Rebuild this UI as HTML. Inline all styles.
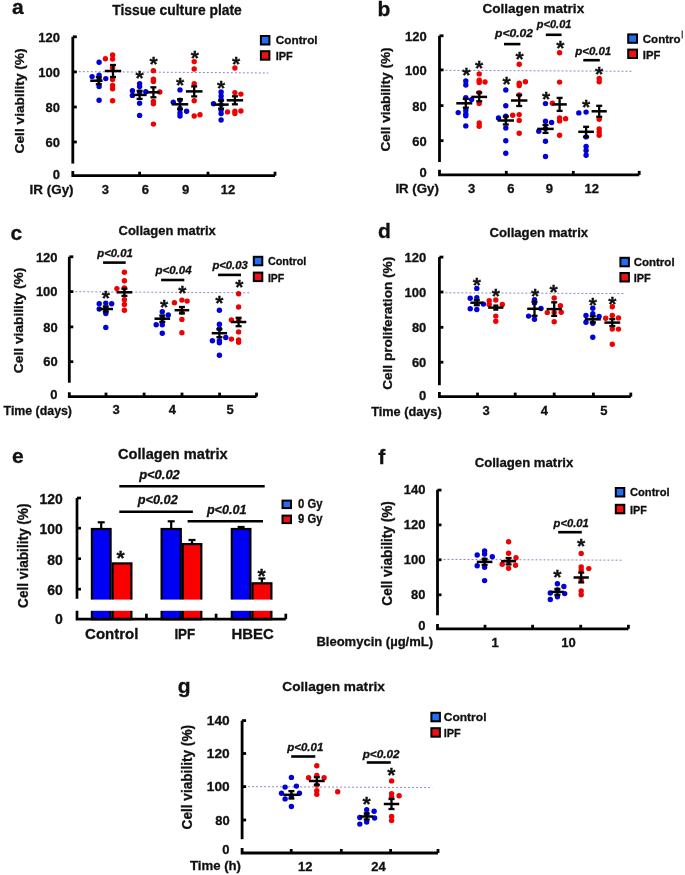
<!DOCTYPE html>
<html><head><meta charset="utf-8"><style>
html,body{margin:0;padding:0;background:#fff;}
svg text{stroke:#111;stroke-width:0.3px;}
svg{display:block;font-family:"Liberation Sans", sans-serif;will-change:transform;filter:blur(0.4px);}
</style></head><body>
<svg width="685" height="875" viewBox="0 0 685 875">
<rect width="685" height="875" fill="#fff"/>
<text x="12" y="14" font-size="21" text-anchor="start" font-weight="bold" font-style="normal" fill="#111">a</text>
<text x="177" y="15.2" font-size="14" text-anchor="middle" font-weight="bold" font-style="normal" fill="#111" textLength="129.5" lengthAdjust="spacingAndGlyphs">Tissue culture plate</text>
<line x1="74.8" y1="71.6" x2="268.3" y2="73" stroke="#9088bc" stroke-width="1" stroke-linecap="butt" stroke-dasharray="2,2"/>
<line x1="72.8" y1="36.8" x2="72.8" y2="163.6" stroke="#000" stroke-width="2.8" stroke-linecap="butt"/>
<path d="M72.8 171 L72.8 175.7 L275 175.7" fill="none" stroke="#000" stroke-width="2.8"/>
<line x1="72.8" y1="36.8" x2="76.8" y2="36.8" stroke="#000" stroke-width="2.8" stroke-linecap="butt"/>
<line x1="72.8" y1="71.9" x2="76.8" y2="71.9" stroke="#000" stroke-width="2.8" stroke-linecap="butt"/>
<line x1="72.8" y1="107.0" x2="76.8" y2="107.0" stroke="#000" stroke-width="2.8" stroke-linecap="butt"/>
<line x1="72.8" y1="142.0" x2="76.8" y2="142.0" stroke="#000" stroke-width="2.8" stroke-linecap="butt"/>
<line x1="139.6" y1="175.7" x2="139.6" y2="171.7" stroke="#000" stroke-width="2.8" stroke-linecap="butt"/>
<line x1="208" y1="175.7" x2="208" y2="171.7" stroke="#000" stroke-width="2.8" stroke-linecap="butt"/>
<line x1="275" y1="175.7" x2="275" y2="171.7" stroke="#000" stroke-width="2.8" stroke-linecap="butt"/>
<text x="60" y="42.199999999999996" font-size="13" text-anchor="end" font-weight="bold" font-style="normal" fill="#111" textLength="21.7" lengthAdjust="spacingAndGlyphs">120</text>
<text x="60" y="77.30000000000001" font-size="13" text-anchor="end" font-weight="bold" font-style="normal" fill="#111" textLength="21.7" lengthAdjust="spacingAndGlyphs">100</text>
<text x="60" y="112.4" font-size="13" text-anchor="end" font-weight="bold" font-style="normal" fill="#111" textLength="14.4" lengthAdjust="spacingAndGlyphs">80</text>
<text x="60" y="147.4" font-size="13" text-anchor="end" font-weight="bold" font-style="normal" fill="#111" textLength="14.4" lengthAdjust="spacingAndGlyphs">60</text>
<text x="60" y="179.2" font-size="13" text-anchor="end" font-weight="bold" font-style="normal" fill="#111">0</text>
<text x="23.8" y="100.9" font-size="13.5" text-anchor="middle" font-weight="bold" font-style="normal" fill="#111" textLength="105" lengthAdjust="spacingAndGlyphs" transform="rotate(-90 23.8 100.9)">Cell viability (%)</text>
<text x="73.6" y="193.5" font-size="13" text-anchor="end" font-weight="bold" font-style="normal" fill="#111" textLength="44" lengthAdjust="spacingAndGlyphs">IR (Gy)</text>
<text x="105.3" y="194.2" font-size="13" text-anchor="middle" font-weight="bold" font-style="normal" fill="#111">3</text>
<text x="145.3" y="194.2" font-size="13" text-anchor="middle" font-weight="bold" font-style="normal" fill="#111">6</text>
<text x="185.5" y="194.2" font-size="13" text-anchor="middle" font-weight="bold" font-style="normal" fill="#111">9</text>
<text x="227.9" y="194.2" font-size="13" text-anchor="middle" font-weight="bold" font-style="normal" fill="#111">12</text>
<rect x="260.9" y="36" width="8.5" height="8.5" fill="#1f6ff0" stroke="#000" stroke-width="2"/>
<text x="275.8" y="44.0" font-size="11.5" text-anchor="start" font-weight="bold" font-style="normal" fill="#111" textLength="41.8" lengthAdjust="spacingAndGlyphs">Control</text>
<rect x="260.9" y="51.2" width="8.5" height="8.5" fill="#ee1111" stroke="#000" stroke-width="2"/>
<text x="275.8" y="60.2" font-size="11.5" text-anchor="start" font-weight="bold" font-style="normal" fill="#111" textLength="17" lengthAdjust="spacingAndGlyphs">IPF</text>
<circle cx="99.1" cy="62.2" r="2.7" fill="#0000d8"/>
<circle cx="92.1" cy="76.6" r="2.7" fill="#0000d8"/>
<circle cx="99.1" cy="75.1" r="2.7" fill="#0000d8"/>
<circle cx="105.8" cy="78.6" r="2.7" fill="#0000d8"/>
<circle cx="99.1" cy="79.9" r="2.7" fill="#0000d8"/>
<circle cx="99.1" cy="86.6" r="2.7" fill="#0000d8"/>
<circle cx="99.1" cy="100.3" r="2.7" fill="#0000d8"/>
<circle cx="105.4" cy="58.7" r="2.7" fill="#f00000"/>
<circle cx="112.6" cy="55" r="2.7" fill="#f00000"/>
<circle cx="112.6" cy="59.1" r="2.7" fill="#f00000"/>
<circle cx="112.6" cy="68" r="2.7" fill="#f00000"/>
<circle cx="112.6" cy="79.5" r="2.7" fill="#f00000"/>
<circle cx="112.6" cy="85.5" r="2.7" fill="#f00000"/>
<circle cx="112.6" cy="88.8" r="2.7" fill="#f00000"/>
<circle cx="112.6" cy="100.7" r="2.7" fill="#f00000"/>
<line x1="98.8" y1="77.2" x2="98.8" y2="84.2" stroke="#000" stroke-width="2.3" stroke-linecap="butt"/>
<line x1="95.8" y1="77.2" x2="101.8" y2="77.2" stroke="#000" stroke-width="2.3" stroke-linecap="butt"/>
<line x1="95.8" y1="84.2" x2="101.8" y2="84.2" stroke="#000" stroke-width="2.3" stroke-linecap="butt"/>
<line x1="90.2" y1="80.7" x2="102.60000000000001" y2="80.7" stroke="#000" stroke-width="2.5" stroke-linecap="butt"/>
<line x1="113" y1="65" x2="113" y2="77" stroke="#000" stroke-width="2.3" stroke-linecap="butt"/>
<line x1="110" y1="65" x2="116" y2="65" stroke="#000" stroke-width="2.3" stroke-linecap="butt"/>
<line x1="110" y1="77" x2="116" y2="77" stroke="#000" stroke-width="2.3" stroke-linecap="butt"/>
<line x1="104.8" y1="71" x2="121.2" y2="71" stroke="#000" stroke-width="2.5" stroke-linecap="butt"/>
<circle cx="139.6" cy="83.6" r="2.7" fill="#0000d8"/>
<circle cx="139.6" cy="86.4" r="2.7" fill="#0000d8"/>
<circle cx="132.4" cy="90.8" r="2.7" fill="#0000d8"/>
<circle cx="132.4" cy="95.4" r="2.7" fill="#0000d8"/>
<circle cx="145.8" cy="91.8" r="2.7" fill="#0000d8"/>
<circle cx="139.6" cy="92" r="2.7" fill="#0000d8"/>
<circle cx="139.6" cy="103.2" r="2.7" fill="#0000d8"/>
<circle cx="139.6" cy="115.4" r="2.7" fill="#0000d8"/>
<circle cx="153.4" cy="70.8" r="2.7" fill="#f00000"/>
<circle cx="153.4" cy="79.2" r="2.7" fill="#f00000"/>
<circle cx="153.4" cy="81.4" r="2.7" fill="#f00000"/>
<circle cx="159.8" cy="92" r="2.7" fill="#f00000"/>
<circle cx="153.4" cy="101.4" r="2.7" fill="#f00000"/>
<circle cx="153.4" cy="103.8" r="2.7" fill="#f00000"/>
<circle cx="153.4" cy="124.1" r="2.7" fill="#f00000"/>
<line x1="139.6" y1="90.9" x2="139.6" y2="98.9" stroke="#000" stroke-width="2.3" stroke-linecap="butt"/>
<line x1="136.6" y1="90.9" x2="142.6" y2="90.9" stroke="#000" stroke-width="2.3" stroke-linecap="butt"/>
<line x1="136.6" y1="98.9" x2="142.6" y2="98.9" stroke="#000" stroke-width="2.3" stroke-linecap="butt"/>
<line x1="132.6" y1="94.9" x2="146.6" y2="94.9" stroke="#000" stroke-width="2.5" stroke-linecap="butt"/>
<line x1="153.4" y1="87.3" x2="153.4" y2="97.3" stroke="#000" stroke-width="2.3" stroke-linecap="butt"/>
<line x1="150.4" y1="87.3" x2="156.4" y2="87.3" stroke="#000" stroke-width="2.3" stroke-linecap="butt"/>
<line x1="150.4" y1="97.3" x2="156.4" y2="97.3" stroke="#000" stroke-width="2.3" stroke-linecap="butt"/>
<line x1="146.9" y1="92.3" x2="159.9" y2="92.3" stroke="#000" stroke-width="2.5" stroke-linecap="butt"/>
<text x="139.6" y="85.16" font-size="21" text-anchor="middle" font-weight="bold" font-style="normal" fill="#111">*</text>
<text x="153.6" y="71.36" font-size="21" text-anchor="middle" font-weight="bold" font-style="normal" fill="#111">*</text>
<circle cx="180" cy="89.9" r="2.7" fill="#0000d8"/>
<circle cx="173.3" cy="102.3" r="2.7" fill="#0000d8"/>
<circle cx="180" cy="100.1" r="2.7" fill="#0000d8"/>
<circle cx="180" cy="108.4" r="2.7" fill="#0000d8"/>
<circle cx="186.6" cy="111.3" r="2.7" fill="#0000d8"/>
<circle cx="180" cy="113" r="2.7" fill="#0000d8"/>
<circle cx="180" cy="116" r="2.7" fill="#0000d8"/>
<circle cx="194.2" cy="61.6" r="2.7" fill="#f00000"/>
<circle cx="194.2" cy="69" r="2.7" fill="#f00000"/>
<circle cx="194.2" cy="83.8" r="2.7" fill="#f00000"/>
<circle cx="194.2" cy="100.8" r="2.7" fill="#f00000"/>
<circle cx="194.2" cy="116" r="2.7" fill="#f00000"/>
<circle cx="200" cy="114.8" r="2.7" fill="#f00000"/>
<line x1="180" y1="99.3" x2="180" y2="109.3" stroke="#000" stroke-width="2.3" stroke-linecap="butt"/>
<line x1="177" y1="99.3" x2="183" y2="99.3" stroke="#000" stroke-width="2.3" stroke-linecap="butt"/>
<line x1="177" y1="109.3" x2="183" y2="109.3" stroke="#000" stroke-width="2.3" stroke-linecap="butt"/>
<line x1="171.8" y1="104.3" x2="188.2" y2="104.3" stroke="#000" stroke-width="2.5" stroke-linecap="butt"/>
<line x1="194.2" y1="86.4" x2="194.2" y2="96.4" stroke="#000" stroke-width="2.3" stroke-linecap="butt"/>
<line x1="191.2" y1="86.4" x2="197.2" y2="86.4" stroke="#000" stroke-width="2.3" stroke-linecap="butt"/>
<line x1="191.2" y1="96.4" x2="197.2" y2="96.4" stroke="#000" stroke-width="2.3" stroke-linecap="butt"/>
<line x1="185.89999999999998" y1="91.4" x2="202.5" y2="91.4" stroke="#000" stroke-width="2.5" stroke-linecap="butt"/>
<text x="180" y="91.66" font-size="21" text-anchor="middle" font-weight="bold" font-style="normal" fill="#111">*</text>
<text x="194.8" y="64.66" font-size="21" text-anchor="middle" font-weight="bold" font-style="normal" fill="#111">*</text>
<circle cx="221.1" cy="92" r="2.7" fill="#0000d8"/>
<circle cx="221.1" cy="96" r="2.7" fill="#0000d8"/>
<circle cx="221.1" cy="99.6" r="2.7" fill="#0000d8"/>
<circle cx="213.5" cy="103.7" r="2.7" fill="#0000d8"/>
<circle cx="221.1" cy="104.6" r="2.7" fill="#0000d8"/>
<circle cx="221.1" cy="110.1" r="2.7" fill="#0000d8"/>
<circle cx="221.1" cy="113.6" r="2.7" fill="#0000d8"/>
<circle cx="221.1" cy="120" r="2.7" fill="#0000d8"/>
<circle cx="234.9" cy="68" r="2.7" fill="#f00000"/>
<circle cx="234.9" cy="92.6" r="2.7" fill="#f00000"/>
<circle cx="240.9" cy="94.1" r="2.7" fill="#f00000"/>
<circle cx="227.5" cy="111.9" r="2.7" fill="#f00000"/>
<circle cx="234.9" cy="111.3" r="2.7" fill="#f00000"/>
<circle cx="234.9" cy="113.6" r="2.7" fill="#f00000"/>
<circle cx="240.9" cy="111" r="2.7" fill="#f00000"/>
<line x1="221.1" y1="100.6" x2="221.1" y2="108.6" stroke="#000" stroke-width="2.3" stroke-linecap="butt"/>
<line x1="218.1" y1="100.6" x2="224.1" y2="100.6" stroke="#000" stroke-width="2.3" stroke-linecap="butt"/>
<line x1="218.1" y1="108.6" x2="224.1" y2="108.6" stroke="#000" stroke-width="2.3" stroke-linecap="butt"/>
<line x1="213.5" y1="104.6" x2="228.7" y2="104.6" stroke="#000" stroke-width="2.5" stroke-linecap="butt"/>
<line x1="234.9" y1="96.3" x2="234.9" y2="104.3" stroke="#000" stroke-width="2.3" stroke-linecap="butt"/>
<line x1="231.9" y1="96.3" x2="237.9" y2="96.3" stroke="#000" stroke-width="2.3" stroke-linecap="butt"/>
<line x1="231.9" y1="104.3" x2="237.9" y2="104.3" stroke="#000" stroke-width="2.3" stroke-linecap="butt"/>
<line x1="226.70000000000002" y1="100.3" x2="243.1" y2="100.3" stroke="#000" stroke-width="2.5" stroke-linecap="butt"/>
<text x="221.1" y="95.06" font-size="21" text-anchor="middle" font-weight="bold" font-style="normal" fill="#111">*</text>
<text x="236" y="71.06" font-size="21" text-anchor="middle" font-weight="bold" font-style="normal" fill="#111">*</text>
<text x="377.5" y="15.5" font-size="21" text-anchor="start" font-weight="bold" font-style="normal" fill="#111">b</text>
<text x="533.3" y="12.8" font-size="13.5" text-anchor="middle" font-weight="bold" font-style="normal" fill="#111" textLength="101.8" lengthAdjust="spacingAndGlyphs">Collagen matrix</text>
<line x1="441.5" y1="70.3" x2="631.4" y2="71.3" stroke="#9088bc" stroke-width="1" stroke-linecap="butt" stroke-dasharray="2,2"/>
<line x1="439.5" y1="35.8" x2="439.5" y2="162" stroke="#000" stroke-width="2.8" stroke-linecap="butt"/>
<path d="M439.5 169.8 L439.5 174.9 L639.2 174.9" fill="none" stroke="#000" stroke-width="2.8"/>
<line x1="439.5" y1="35.8" x2="443.5" y2="35.8" stroke="#000" stroke-width="2.8" stroke-linecap="butt"/>
<line x1="439.5" y1="69.9" x2="443.5" y2="69.9" stroke="#000" stroke-width="2.8" stroke-linecap="butt"/>
<line x1="439.5" y1="105.6" x2="443.5" y2="105.6" stroke="#000" stroke-width="2.8" stroke-linecap="butt"/>
<line x1="439.5" y1="140.7" x2="443.5" y2="140.7" stroke="#000" stroke-width="2.8" stroke-linecap="butt"/>
<line x1="506.3" y1="174.9" x2="506.3" y2="170.9" stroke="#000" stroke-width="2.8" stroke-linecap="butt"/>
<line x1="573.3" y1="174.9" x2="573.3" y2="170.9" stroke="#000" stroke-width="2.8" stroke-linecap="butt"/>
<line x1="639.2" y1="174.9" x2="639.2" y2="170.9" stroke="#000" stroke-width="2.8" stroke-linecap="butt"/>
<text x="426.7" y="41.25399999999999" font-size="13" text-anchor="end" font-weight="bold" font-style="normal" fill="#111" textLength="21.7" lengthAdjust="spacingAndGlyphs">120</text>
<text x="426.7" y="75.354" font-size="13" text-anchor="end" font-weight="bold" font-style="normal" fill="#111" textLength="21.7" lengthAdjust="spacingAndGlyphs">100</text>
<text x="426.7" y="111.05399999999999" font-size="13" text-anchor="end" font-weight="bold" font-style="normal" fill="#111" textLength="14.4" lengthAdjust="spacingAndGlyphs">80</text>
<text x="426.7" y="146.154" font-size="13" text-anchor="end" font-weight="bold" font-style="normal" fill="#111" textLength="14.4" lengthAdjust="spacingAndGlyphs">60</text>
<text x="426.7" y="177.354" font-size="13" text-anchor="end" font-weight="bold" font-style="normal" fill="#111">0</text>
<text x="390.2" y="99.5" font-size="13.5" text-anchor="middle" font-weight="bold" font-style="normal" fill="#111" textLength="104" lengthAdjust="spacingAndGlyphs" transform="rotate(-90 390.2 99.5)">Cell viability (%)</text>
<text x="438.9" y="192.5" font-size="13" text-anchor="end" font-weight="bold" font-style="normal" fill="#111" textLength="43.5" lengthAdjust="spacingAndGlyphs">IR (Gy)</text>
<text x="471.6" y="192.7" font-size="13" text-anchor="middle" font-weight="bold" font-style="normal" fill="#111">3</text>
<text x="510.9" y="192.7" font-size="13" text-anchor="middle" font-weight="bold" font-style="normal" fill="#111">6</text>
<text x="549.4" y="192.7" font-size="13" text-anchor="middle" font-weight="bold" font-style="normal" fill="#111">9</text>
<text x="591.7" y="192.7" font-size="13" text-anchor="middle" font-weight="bold" font-style="normal" fill="#111">12</text>
<rect x="628.2" y="34.4" width="8.8" height="8.4" fill="#1f6ff0" stroke="#000" stroke-width="2"/>
<rect x="628.2" y="49.6" width="8.8" height="8.4" fill="#ee1111" stroke="#000" stroke-width="2"/>
<text x="642.8" y="42.7" font-size="11.5" text-anchor="start" font-weight="bold" font-style="normal" fill="#111">Contro</text>
<line x1="682.2" y1="30.6" x2="682.2" y2="38.4" stroke="#222" stroke-width="1.1" stroke-linecap="butt"/>
<text x="642.8" y="58.8" font-size="11.5" text-anchor="start" font-weight="bold" font-style="normal" fill="#111" textLength="17.6" lengthAdjust="spacingAndGlyphs">IPF</text>
<line x1="504" y1="44.1" x2="520.4" y2="44.1" stroke="#000" stroke-width="2.6" stroke-linecap="butt"/>
<text x="514" y="36.800000000000004" font-size="11.4" text-anchor="middle" font-weight="bold" font-style="italic" fill="#111" textLength="38" lengthAdjust="spacingAndGlyphs">p&lt;0.02</text>
<line x1="545.8" y1="34.8" x2="561.6" y2="34.8" stroke="#000" stroke-width="2.6" stroke-linecap="butt"/>
<text x="554.1" y="27.8" font-size="11.4" text-anchor="middle" font-weight="bold" font-style="italic" fill="#111" textLength="34.5" lengthAdjust="spacingAndGlyphs">p&lt;0.01</text>
<line x1="583.3" y1="60.2" x2="599.8" y2="60.2" stroke="#000" stroke-width="2.6" stroke-linecap="butt"/>
<text x="593.2" y="55.1" font-size="11.4" text-anchor="middle" font-weight="bold" font-style="italic" fill="#111" textLength="36" lengthAdjust="spacingAndGlyphs">p&lt;0.01</text>
<circle cx="465.8" cy="80.9" r="2.7" fill="#0000d8"/>
<circle cx="465.8" cy="85" r="2.7" fill="#0000d8"/>
<circle cx="465.8" cy="97.8" r="2.7" fill="#0000d8"/>
<circle cx="471.6" cy="99.6" r="2.7" fill="#0000d8"/>
<circle cx="458.2" cy="112.6" r="2.7" fill="#0000d8"/>
<circle cx="465.8" cy="110.5" r="2.7" fill="#0000d8"/>
<circle cx="465.8" cy="114" r="2.7" fill="#0000d8"/>
<circle cx="465.8" cy="115.8" r="2.7" fill="#0000d8"/>
<circle cx="465.8" cy="125.9" r="2.7" fill="#0000d8"/>
<circle cx="479.2" cy="73.9" r="2.7" fill="#f00000"/>
<circle cx="479.2" cy="80.3" r="2.7" fill="#f00000"/>
<circle cx="479.2" cy="82.6" r="2.7" fill="#f00000"/>
<circle cx="485" cy="82" r="2.7" fill="#f00000"/>
<circle cx="479.2" cy="92.6" r="2.7" fill="#f00000"/>
<circle cx="479.2" cy="103.6" r="2.7" fill="#f00000"/>
<circle cx="479.2" cy="123" r="2.7" fill="#f00000"/>
<circle cx="479.2" cy="126.3" r="2.7" fill="#f00000"/>
<line x1="465.8" y1="98.89999999999999" x2="465.8" y2="107.7" stroke="#000" stroke-width="2.3" stroke-linecap="butt"/>
<line x1="462.8" y1="98.89999999999999" x2="468.8" y2="98.89999999999999" stroke="#000" stroke-width="2.3" stroke-linecap="butt"/>
<line x1="462.8" y1="107.7" x2="468.8" y2="107.7" stroke="#000" stroke-width="2.3" stroke-linecap="butt"/>
<line x1="456.3" y1="103.3" x2="472.3" y2="103.3" stroke="#000" stroke-width="2.5" stroke-linecap="butt"/>
<line x1="479.2" y1="92.5" x2="479.2" y2="101.30000000000001" stroke="#000" stroke-width="2.3" stroke-linecap="butt"/>
<line x1="476.2" y1="92.5" x2="482.2" y2="92.5" stroke="#000" stroke-width="2.3" stroke-linecap="butt"/>
<line x1="476.2" y1="101.30000000000001" x2="482.2" y2="101.30000000000001" stroke="#000" stroke-width="2.3" stroke-linecap="butt"/>
<line x1="471.3" y1="96.9" x2="487.09999999999997" y2="96.9" stroke="#000" stroke-width="2.5" stroke-linecap="butt"/>
<text x="466.4" y="81.66" font-size="21" text-anchor="middle" font-weight="bold" font-style="normal" fill="#111">*</text>
<text x="479.2" y="75.16" font-size="21" text-anchor="middle" font-weight="bold" font-style="normal" fill="#111">*</text>
<circle cx="505.8" cy="90" r="2.7" fill="#0000d8"/>
<circle cx="505.8" cy="105.8" r="2.7" fill="#0000d8"/>
<circle cx="498.5" cy="118" r="2.7" fill="#0000d8"/>
<circle cx="505.8" cy="116.2" r="2.7" fill="#0000d8"/>
<circle cx="505.8" cy="128" r="2.7" fill="#0000d8"/>
<circle cx="505.8" cy="140.7" r="2.7" fill="#0000d8"/>
<circle cx="505.8" cy="153.2" r="2.7" fill="#0000d8"/>
<circle cx="519.2" cy="64.3" r="2.7" fill="#f00000"/>
<circle cx="519.2" cy="83.2" r="2.7" fill="#f00000"/>
<circle cx="519.2" cy="85.6" r="2.7" fill="#f00000"/>
<circle cx="525.4" cy="81.8" r="2.7" fill="#f00000"/>
<circle cx="519.2" cy="94.9" r="2.7" fill="#f00000"/>
<circle cx="512.7" cy="115.3" r="2.7" fill="#f00000"/>
<circle cx="519.2" cy="114.6" r="2.7" fill="#f00000"/>
<circle cx="519.2" cy="120.4" r="2.7" fill="#f00000"/>
<circle cx="519.2" cy="133.3" r="2.7" fill="#f00000"/>
<line x1="505.8" y1="116.5" x2="505.8" y2="124.5" stroke="#000" stroke-width="2.3" stroke-linecap="butt"/>
<line x1="502.8" y1="116.5" x2="508.8" y2="116.5" stroke="#000" stroke-width="2.3" stroke-linecap="butt"/>
<line x1="502.8" y1="124.5" x2="508.8" y2="124.5" stroke="#000" stroke-width="2.3" stroke-linecap="butt"/>
<line x1="497.6" y1="120.5" x2="514.0" y2="120.5" stroke="#000" stroke-width="2.5" stroke-linecap="butt"/>
<line x1="519.2" y1="95.0" x2="519.2" y2="106.0" stroke="#000" stroke-width="2.3" stroke-linecap="butt"/>
<line x1="516.2" y1="95.0" x2="522.2" y2="95.0" stroke="#000" stroke-width="2.3" stroke-linecap="butt"/>
<line x1="516.2" y1="106.0" x2="522.2" y2="106.0" stroke="#000" stroke-width="2.3" stroke-linecap="butt"/>
<line x1="511.00000000000006" y1="100.5" x2="527.4000000000001" y2="100.5" stroke="#000" stroke-width="2.5" stroke-linecap="butt"/>
<text x="506.7" y="90.96" font-size="21" text-anchor="middle" font-weight="bold" font-style="normal" fill="#111">*</text>
<text x="519.5" y="65.86" font-size="21" text-anchor="middle" font-weight="bold" font-style="normal" fill="#111">*</text>
<circle cx="545.5" cy="103.6" r="2.7" fill="#0000d8"/>
<circle cx="545.5" cy="121.2" r="2.7" fill="#0000d8"/>
<circle cx="551.6" cy="122.5" r="2.7" fill="#0000d8"/>
<circle cx="538.8" cy="131.3" r="2.7" fill="#0000d8"/>
<circle cx="545.5" cy="128.5" r="2.7" fill="#0000d8"/>
<circle cx="545.5" cy="141.2" r="2.7" fill="#0000d8"/>
<circle cx="545.5" cy="156.5" r="2.7" fill="#0000d8"/>
<circle cx="559.6" cy="52.8" r="2.7" fill="#f00000"/>
<circle cx="559.6" cy="82.1" r="2.7" fill="#f00000"/>
<circle cx="552.4" cy="103.3" r="2.7" fill="#f00000"/>
<circle cx="559.6" cy="118" r="2.7" fill="#f00000"/>
<circle cx="559.6" cy="120.9" r="2.7" fill="#f00000"/>
<circle cx="565.6" cy="118.8" r="2.7" fill="#f00000"/>
<circle cx="559.6" cy="135.3" r="2.7" fill="#f00000"/>
<line x1="545.5" y1="124.9" x2="545.5" y2="132.9" stroke="#000" stroke-width="2.3" stroke-linecap="butt"/>
<line x1="542.5" y1="124.9" x2="548.5" y2="124.9" stroke="#000" stroke-width="2.3" stroke-linecap="butt"/>
<line x1="542.5" y1="132.9" x2="548.5" y2="132.9" stroke="#000" stroke-width="2.3" stroke-linecap="butt"/>
<line x1="537.3" y1="128.9" x2="553.7" y2="128.9" stroke="#000" stroke-width="2.5" stroke-linecap="butt"/>
<line x1="559.6" y1="97.9" x2="559.6" y2="110.9" stroke="#000" stroke-width="2.3" stroke-linecap="butt"/>
<line x1="556.6" y1="97.9" x2="562.6" y2="97.9" stroke="#000" stroke-width="2.3" stroke-linecap="butt"/>
<line x1="556.6" y1="110.9" x2="562.6" y2="110.9" stroke="#000" stroke-width="2.3" stroke-linecap="butt"/>
<line x1="552.4" y1="104.4" x2="566.8000000000001" y2="104.4" stroke="#000" stroke-width="2.5" stroke-linecap="butt"/>
<text x="546" y="105.96" font-size="21" text-anchor="middle" font-weight="bold" font-style="normal" fill="#111">*</text>
<text x="560.4" y="54.66" font-size="21" text-anchor="middle" font-weight="bold" font-style="normal" fill="#111">*</text>
<circle cx="578.8" cy="112.9" r="2.7" fill="#0000d8"/>
<circle cx="586.1" cy="112.1" r="2.7" fill="#0000d8"/>
<circle cx="586.1" cy="136.9" r="2.7" fill="#0000d8"/>
<circle cx="586.1" cy="146.5" r="2.7" fill="#0000d8"/>
<circle cx="586.1" cy="150.5" r="2.7" fill="#0000d8"/>
<circle cx="586.1" cy="155.3" r="2.7" fill="#0000d8"/>
<circle cx="599.2" cy="78.5" r="2.7" fill="#f00000"/>
<circle cx="599.2" cy="81.7" r="2.7" fill="#f00000"/>
<circle cx="599.2" cy="119.3" r="2.7" fill="#f00000"/>
<circle cx="599.2" cy="128.9" r="2.7" fill="#f00000"/>
<circle cx="599.2" cy="132.1" r="2.7" fill="#f00000"/>
<circle cx="599.2" cy="135.3" r="2.7" fill="#f00000"/>
<line x1="586.1" y1="126.80000000000001" x2="586.1" y2="136.8" stroke="#000" stroke-width="2.3" stroke-linecap="butt"/>
<line x1="583.1" y1="126.80000000000001" x2="589.1" y2="126.80000000000001" stroke="#000" stroke-width="2.3" stroke-linecap="butt"/>
<line x1="583.1" y1="136.8" x2="589.1" y2="136.8" stroke="#000" stroke-width="2.3" stroke-linecap="butt"/>
<line x1="578.3000000000001" y1="131.8" x2="593.9" y2="131.8" stroke="#000" stroke-width="2.5" stroke-linecap="butt"/>
<line x1="599.2" y1="105.8" x2="599.2" y2="116.8" stroke="#000" stroke-width="2.3" stroke-linecap="butt"/>
<line x1="596.2" y1="105.8" x2="602.2" y2="105.8" stroke="#000" stroke-width="2.3" stroke-linecap="butt"/>
<line x1="596.2" y1="116.8" x2="602.2" y2="116.8" stroke="#000" stroke-width="2.3" stroke-linecap="butt"/>
<line x1="591.6" y1="111.3" x2="606.8000000000001" y2="111.3" stroke="#000" stroke-width="2.5" stroke-linecap="butt"/>
<text x="586.1" y="113.96" font-size="21" text-anchor="middle" font-weight="bold" font-style="normal" fill="#111">*</text>
<text x="599.2" y="80.66" font-size="21" text-anchor="middle" font-weight="bold" font-style="normal" fill="#111">*</text>
<text x="10.5" y="240" font-size="21" text-anchor="start" font-weight="bold" font-style="normal" fill="#111">c</text>
<text x="167.2" y="234.9" font-size="13" text-anchor="middle" font-weight="bold" font-style="normal" fill="#111" textLength="97.2" lengthAdjust="spacingAndGlyphs">Collagen matrix</text>
<line x1="71.3" y1="291.7" x2="250.5" y2="292.8" stroke="#9088bc" stroke-width="1" stroke-linecap="butt" stroke-dasharray="2,2"/>
<line x1="69.3" y1="256.8" x2="69.3" y2="382.7" stroke="#000" stroke-width="2.8" stroke-linecap="butt"/>
<path d="M69.3 392.2 L69.3 396.6 L256.5 396.6" fill="none" stroke="#000" stroke-width="2.8"/>
<line x1="69.3" y1="256.8" x2="73.3" y2="256.8" stroke="#000" stroke-width="2.8" stroke-linecap="butt"/>
<line x1="69.3" y1="291.6" x2="73.3" y2="291.6" stroke="#000" stroke-width="2.8" stroke-linecap="butt"/>
<line x1="69.3" y1="326.9" x2="73.3" y2="326.9" stroke="#000" stroke-width="2.8" stroke-linecap="butt"/>
<line x1="69.3" y1="361.7" x2="73.3" y2="361.7" stroke="#000" stroke-width="2.8" stroke-linecap="butt"/>
<line x1="106" y1="396.6" x2="106" y2="392.6" stroke="#000" stroke-width="2.8" stroke-linecap="butt"/>
<line x1="144.1" y1="396.6" x2="144.1" y2="392.6" stroke="#000" stroke-width="2.8" stroke-linecap="butt"/>
<line x1="182" y1="396.6" x2="182" y2="392.6" stroke="#000" stroke-width="2.8" stroke-linecap="butt"/>
<line x1="219.6" y1="396.6" x2="219.6" y2="392.6" stroke="#000" stroke-width="2.8" stroke-linecap="butt"/>
<line x1="256.5" y1="396.6" x2="256.5" y2="392.6" stroke="#000" stroke-width="2.8" stroke-linecap="butt"/>
<text x="57.6" y="261.55400000000003" font-size="13" text-anchor="end" font-weight="bold" font-style="normal" fill="#111" textLength="21.7" lengthAdjust="spacingAndGlyphs">120</text>
<text x="57.6" y="296.35400000000004" font-size="13" text-anchor="end" font-weight="bold" font-style="normal" fill="#111" textLength="21.7" lengthAdjust="spacingAndGlyphs">100</text>
<text x="57.6" y="331.654" font-size="13" text-anchor="end" font-weight="bold" font-style="normal" fill="#111" textLength="14.4" lengthAdjust="spacingAndGlyphs">80</text>
<text x="57.6" y="366.454" font-size="13" text-anchor="end" font-weight="bold" font-style="normal" fill="#111" textLength="14.4" lengthAdjust="spacingAndGlyphs">60</text>
<text x="57.6" y="398.854" font-size="13" text-anchor="end" font-weight="bold" font-style="normal" fill="#111">0</text>
<text x="23.2" y="320.4" font-size="13.5" text-anchor="middle" font-weight="bold" font-style="normal" fill="#111" textLength="105.6" lengthAdjust="spacingAndGlyphs" transform="rotate(-90 23.2 320.4)">Cell viability (%)</text>
<text x="3.6" y="415" font-size="12.5" text-anchor="start" font-weight="bold" font-style="normal" fill="#111" textLength="68.4" lengthAdjust="spacingAndGlyphs">Time (days)</text>
<text x="116.2" y="414" font-size="13" text-anchor="middle" font-weight="bold" font-style="normal" fill="#111">3</text>
<text x="172.4" y="414" font-size="13" text-anchor="middle" font-weight="bold" font-style="normal" fill="#111">4</text>
<text x="230.2" y="414" font-size="13" text-anchor="middle" font-weight="bold" font-style="normal" fill="#111">5</text>
<rect x="253.8" y="256.8" width="8.5" height="8.5" fill="#1f6ff0" stroke="#000" stroke-width="2"/>
<text x="267.9" y="264.8" font-size="10.8" text-anchor="start" font-weight="bold" font-style="normal" fill="#111" textLength="38.4" lengthAdjust="spacingAndGlyphs">Control</text>
<rect x="253.8" y="272.6" width="8.5" height="8.5" fill="#ee1111" stroke="#000" stroke-width="2"/>
<text x="267.9" y="281.6" font-size="10.8" text-anchor="start" font-weight="bold" font-style="normal" fill="#111" textLength="16.3" lengthAdjust="spacingAndGlyphs">IPF</text>
<line x1="103.1" y1="262.6" x2="125.7" y2="262.6" stroke="#000" stroke-width="2.6" stroke-linecap="butt"/>
<text x="115" y="256.90000000000003" font-size="11.4" text-anchor="middle" font-weight="bold" font-style="italic" fill="#111" textLength="35.5" lengthAdjust="spacingAndGlyphs">p&lt;0.01</text>
<line x1="161.1" y1="280" x2="184.3" y2="280" stroke="#000" stroke-width="2.6" stroke-linecap="butt"/>
<text x="173.5" y="274.1" font-size="11.4" text-anchor="middle" font-weight="bold" font-style="italic" fill="#111" textLength="36.2" lengthAdjust="spacingAndGlyphs">p&lt;0.04</text>
<line x1="218.1" y1="274.9" x2="241" y2="274.9" stroke="#000" stroke-width="2.6" stroke-linecap="butt"/>
<text x="230.1" y="269.3" font-size="11.4" text-anchor="middle" font-weight="bold" font-style="italic" fill="#111" textLength="35.4" lengthAdjust="spacingAndGlyphs">p&lt;0.03</text>
<circle cx="99.2" cy="303.7" r="2.7" fill="#0000d8"/>
<circle cx="105.8" cy="303.1" r="2.7" fill="#0000d8"/>
<circle cx="111.7" cy="303.7" r="2.7" fill="#0000d8"/>
<circle cx="99.2" cy="309" r="2.7" fill="#0000d8"/>
<circle cx="105.8" cy="309" r="2.7" fill="#0000d8"/>
<circle cx="105.8" cy="313.6" r="2.7" fill="#0000d8"/>
<circle cx="105.8" cy="327.4" r="2.7" fill="#0000d8"/>
<circle cx="124.4" cy="272.2" r="2.7" fill="#f00000"/>
<circle cx="124.4" cy="280.7" r="2.7" fill="#f00000"/>
<circle cx="116.9" cy="288.6" r="2.7" fill="#f00000"/>
<circle cx="124.4" cy="288" r="2.7" fill="#f00000"/>
<circle cx="124.4" cy="299.8" r="2.7" fill="#f00000"/>
<circle cx="124.4" cy="304.4" r="2.7" fill="#f00000"/>
<circle cx="124.4" cy="310.3" r="2.7" fill="#f00000"/>
<line x1="105.8" y1="306.4" x2="105.8" y2="311.6" stroke="#000" stroke-width="2.3" stroke-linecap="butt"/>
<line x1="102.8" y1="306.4" x2="108.8" y2="306.4" stroke="#000" stroke-width="2.3" stroke-linecap="butt"/>
<line x1="102.8" y1="311.6" x2="108.8" y2="311.6" stroke="#000" stroke-width="2.3" stroke-linecap="butt"/>
<line x1="98.6" y1="309" x2="113.0" y2="309" stroke="#000" stroke-width="2.5" stroke-linecap="butt"/>
<line x1="124.4" y1="288.7" x2="124.4" y2="295.90000000000003" stroke="#000" stroke-width="2.3" stroke-linecap="butt"/>
<line x1="121.4" y1="288.7" x2="127.4" y2="288.7" stroke="#000" stroke-width="2.3" stroke-linecap="butt"/>
<line x1="121.4" y1="295.90000000000003" x2="127.4" y2="295.90000000000003" stroke="#000" stroke-width="2.3" stroke-linecap="butt"/>
<line x1="116.60000000000001" y1="292.3" x2="132.20000000000002" y2="292.3" stroke="#000" stroke-width="2.5" stroke-linecap="butt"/>
<text x="105.8" y="305.16" font-size="21" text-anchor="middle" font-weight="bold" font-style="normal" fill="#111">*</text>
<circle cx="162.3" cy="311.8" r="2.7" fill="#0000d8"/>
<circle cx="168.3" cy="315" r="2.7" fill="#0000d8"/>
<circle cx="162.3" cy="318.2" r="2.7" fill="#0000d8"/>
<circle cx="156.2" cy="324.7" r="2.7" fill="#0000d8"/>
<circle cx="162.3" cy="324.7" r="2.7" fill="#0000d8"/>
<circle cx="162.3" cy="333.2" r="2.7" fill="#0000d8"/>
<circle cx="174.4" cy="302.7" r="2.7" fill="#f00000"/>
<circle cx="181.9" cy="300.1" r="2.7" fill="#f00000"/>
<circle cx="187.1" cy="301.1" r="2.7" fill="#f00000"/>
<circle cx="181.9" cy="312" r="2.7" fill="#f00000"/>
<circle cx="181.9" cy="319.4" r="2.7" fill="#f00000"/>
<circle cx="181.9" cy="332.7" r="2.7" fill="#f00000"/>
<line x1="162.3" y1="315.5" x2="162.3" y2="321.9" stroke="#000" stroke-width="2.3" stroke-linecap="butt"/>
<line x1="159.3" y1="315.5" x2="165.3" y2="315.5" stroke="#000" stroke-width="2.3" stroke-linecap="butt"/>
<line x1="159.3" y1="321.9" x2="165.3" y2="321.9" stroke="#000" stroke-width="2.3" stroke-linecap="butt"/>
<line x1="154.5" y1="318.7" x2="170.10000000000002" y2="318.7" stroke="#000" stroke-width="2.5" stroke-linecap="butt"/>
<line x1="181.9" y1="307.0" x2="181.9" y2="313.4" stroke="#000" stroke-width="2.3" stroke-linecap="butt"/>
<line x1="178.9" y1="307.0" x2="184.9" y2="307.0" stroke="#000" stroke-width="2.3" stroke-linecap="butt"/>
<line x1="178.9" y1="313.4" x2="184.9" y2="313.4" stroke="#000" stroke-width="2.3" stroke-linecap="butt"/>
<line x1="174.6" y1="310.2" x2="189.20000000000002" y2="310.2" stroke="#000" stroke-width="2.5" stroke-linecap="butt"/>
<text x="164" y="313.66" font-size="21" text-anchor="middle" font-weight="bold" font-style="normal" fill="#111">*</text>
<text x="182.3" y="299.96" font-size="21" text-anchor="middle" font-weight="bold" font-style="normal" fill="#111">*</text>
<circle cx="219.4" cy="310.2" r="2.7" fill="#0000d8"/>
<circle cx="219.4" cy="324.2" r="2.7" fill="#0000d8"/>
<circle cx="219.4" cy="328.7" r="2.7" fill="#0000d8"/>
<circle cx="225.8" cy="337.5" r="2.7" fill="#0000d8"/>
<circle cx="212.4" cy="340.7" r="2.7" fill="#0000d8"/>
<circle cx="219.4" cy="340.7" r="2.7" fill="#0000d8"/>
<circle cx="219.4" cy="342.8" r="2.7" fill="#0000d8"/>
<circle cx="219.4" cy="355.2" r="2.7" fill="#0000d8"/>
<circle cx="238.6" cy="293.7" r="2.7" fill="#f00000"/>
<circle cx="238.6" cy="307" r="2.7" fill="#f00000"/>
<circle cx="231.4" cy="319.9" r="2.7" fill="#f00000"/>
<circle cx="238.6" cy="319.9" r="2.7" fill="#f00000"/>
<circle cx="238.6" cy="331.9" r="2.7" fill="#f00000"/>
<circle cx="231.4" cy="339.1" r="2.7" fill="#f00000"/>
<circle cx="238.6" cy="339.9" r="2.7" fill="#f00000"/>
<circle cx="238.6" cy="342.3" r="2.7" fill="#f00000"/>
<line x1="219.4" y1="329.2" x2="219.4" y2="337.2" stroke="#000" stroke-width="2.3" stroke-linecap="butt"/>
<line x1="216.4" y1="329.2" x2="222.4" y2="329.2" stroke="#000" stroke-width="2.3" stroke-linecap="butt"/>
<line x1="216.4" y1="337.2" x2="222.4" y2="337.2" stroke="#000" stroke-width="2.3" stroke-linecap="butt"/>
<line x1="211.70000000000002" y1="333.2" x2="227.1" y2="333.2" stroke="#000" stroke-width="2.5" stroke-linecap="butt"/>
<line x1="238.6" y1="317.8" x2="238.6" y2="326.2" stroke="#000" stroke-width="2.3" stroke-linecap="butt"/>
<line x1="235.6" y1="317.8" x2="241.6" y2="317.8" stroke="#000" stroke-width="2.3" stroke-linecap="butt"/>
<line x1="235.6" y1="326.2" x2="241.6" y2="326.2" stroke="#000" stroke-width="2.3" stroke-linecap="butt"/>
<line x1="230.9" y1="322" x2="246.29999999999998" y2="322" stroke="#000" stroke-width="2.5" stroke-linecap="butt"/>
<text x="219.4" y="310.46" font-size="21" text-anchor="middle" font-weight="bold" font-style="normal" fill="#111">*</text>
<text x="239.4" y="294.26" font-size="21" text-anchor="middle" font-weight="bold" font-style="normal" fill="#111">*</text>
<text x="377.9" y="237.6" font-size="21" text-anchor="start" font-weight="bold" font-style="normal" fill="#111">d</text>
<text x="538.8" y="236.5" font-size="13.2" text-anchor="middle" font-weight="bold" font-style="normal" fill="#111" textLength="98.7" lengthAdjust="spacingAndGlyphs">Collagen matrix</text>
<line x1="441.4" y1="292.8" x2="624" y2="293.6" stroke="#9088bc" stroke-width="1" stroke-linecap="butt" stroke-dasharray="2,2"/>
<line x1="439.4" y1="257.1" x2="439.4" y2="385.2" stroke="#000" stroke-width="2.8" stroke-linecap="butt"/>
<path d="M439.4 392 L439.4 396.6 L630.8 396.6" fill="none" stroke="#000" stroke-width="2.8"/>
<line x1="439.4" y1="257.1" x2="443.4" y2="257.1" stroke="#000" stroke-width="2.8" stroke-linecap="butt"/>
<line x1="439.4" y1="292" x2="443.4" y2="292" stroke="#000" stroke-width="2.8" stroke-linecap="butt"/>
<line x1="439.4" y1="327.3" x2="443.4" y2="327.3" stroke="#000" stroke-width="2.8" stroke-linecap="butt"/>
<line x1="439.4" y1="362.2" x2="443.4" y2="362.2" stroke="#000" stroke-width="2.8" stroke-linecap="butt"/>
<line x1="477.5" y1="396.6" x2="477.5" y2="392.6" stroke="#000" stroke-width="2.8" stroke-linecap="butt"/>
<line x1="515.2" y1="396.6" x2="515.2" y2="392.6" stroke="#000" stroke-width="2.8" stroke-linecap="butt"/>
<line x1="554.2" y1="396.6" x2="554.2" y2="392.6" stroke="#000" stroke-width="2.8" stroke-linecap="butt"/>
<line x1="593.4" y1="396.6" x2="593.4" y2="392.6" stroke="#000" stroke-width="2.8" stroke-linecap="butt"/>
<line x1="630.8" y1="396.6" x2="630.8" y2="392.6" stroke="#000" stroke-width="2.8" stroke-linecap="butt"/>
<text x="426.3" y="262.05400000000003" font-size="13" text-anchor="end" font-weight="bold" font-style="normal" fill="#111" textLength="21.7" lengthAdjust="spacingAndGlyphs">120</text>
<text x="426.3" y="296.954" font-size="13" text-anchor="end" font-weight="bold" font-style="normal" fill="#111" textLength="21.7" lengthAdjust="spacingAndGlyphs">100</text>
<text x="426.3" y="332.254" font-size="13" text-anchor="end" font-weight="bold" font-style="normal" fill="#111" textLength="14.4" lengthAdjust="spacingAndGlyphs">80</text>
<text x="426.3" y="367.154" font-size="13" text-anchor="end" font-weight="bold" font-style="normal" fill="#111" textLength="14.4" lengthAdjust="spacingAndGlyphs">60</text>
<text x="426.3" y="399.55400000000003" font-size="13" text-anchor="end" font-weight="bold" font-style="normal" fill="#111">0</text>
<text x="392.4" y="323.3" font-size="13.5" text-anchor="middle" font-weight="bold" font-style="normal" fill="#111" textLength="133" lengthAdjust="spacingAndGlyphs" transform="rotate(-90 392.4 323.3)">Cell proliferation (%)</text>
<text x="371.2" y="415.5" font-size="12.5" text-anchor="start" font-weight="bold" font-style="normal" fill="#111" textLength="70.5" lengthAdjust="spacingAndGlyphs">Time (days)</text>
<text x="486.1" y="415.3" font-size="13" text-anchor="middle" font-weight="bold" font-style="normal" fill="#111">3</text>
<text x="544.3" y="415.3" font-size="13" text-anchor="middle" font-weight="bold" font-style="normal" fill="#111">4</text>
<text x="603.8" y="415.3" font-size="13" text-anchor="middle" font-weight="bold" font-style="normal" fill="#111">5</text>
<rect x="620.4" y="257.8" width="8.5" height="8.5" fill="#1f6ff0" stroke="#000" stroke-width="2"/>
<text x="633.7" y="265.8" font-size="11.3" text-anchor="start" font-weight="bold" font-style="normal" fill="#111" textLength="40.9" lengthAdjust="spacingAndGlyphs">Control</text>
<rect x="620.4" y="273" width="8.5" height="8.5" fill="#ee1111" stroke="#000" stroke-width="2"/>
<text x="633.7" y="282.0" font-size="11.3" text-anchor="start" font-weight="bold" font-style="normal" fill="#111" textLength="17" lengthAdjust="spacingAndGlyphs">IPF</text>
<circle cx="476.8" cy="288.4" r="2.7" fill="#0000d8"/>
<circle cx="470.2" cy="298.3" r="2.7" fill="#0000d8"/>
<circle cx="476.8" cy="297.8" r="2.7" fill="#0000d8"/>
<circle cx="483.4" cy="304.1" r="2.7" fill="#0000d8"/>
<circle cx="470.2" cy="308.8" r="2.7" fill="#0000d8"/>
<circle cx="476.8" cy="309.5" r="2.7" fill="#0000d8"/>
<circle cx="489.2" cy="300.8" r="2.7" fill="#f00000"/>
<circle cx="495.8" cy="300" r="2.7" fill="#f00000"/>
<circle cx="502.3" cy="304.4" r="2.7" fill="#f00000"/>
<circle cx="489.2" cy="304.5" r="2.7" fill="#f00000"/>
<circle cx="495.8" cy="316.1" r="2.7" fill="#f00000"/>
<circle cx="495.8" cy="321.2" r="2.7" fill="#f00000"/>
<line x1="476.8" y1="300.2" x2="476.8" y2="305.2" stroke="#000" stroke-width="2.3" stroke-linecap="butt"/>
<line x1="473.8" y1="300.2" x2="479.8" y2="300.2" stroke="#000" stroke-width="2.3" stroke-linecap="butt"/>
<line x1="473.8" y1="305.2" x2="479.8" y2="305.2" stroke="#000" stroke-width="2.3" stroke-linecap="butt"/>
<line x1="470.3" y1="302.7" x2="483.3" y2="302.7" stroke="#000" stroke-width="2.5" stroke-linecap="butt"/>
<line x1="495.8" y1="305.6" x2="495.8" y2="309.6" stroke="#000" stroke-width="2.3" stroke-linecap="butt"/>
<line x1="493.3" y1="305.6" x2="498.3" y2="305.6" stroke="#000" stroke-width="2.3" stroke-linecap="butt"/>
<line x1="493.3" y1="309.6" x2="498.3" y2="309.6" stroke="#000" stroke-width="2.3" stroke-linecap="butt"/>
<line x1="488.2" y1="307.6" x2="503.40000000000003" y2="307.6" stroke="#000" stroke-width="2.5" stroke-linecap="butt"/>
<text x="476.8" y="291.76" font-size="21" text-anchor="middle" font-weight="bold" font-style="normal" fill="#111">*</text>
<text x="495.8" y="303.36" font-size="21" text-anchor="middle" font-weight="bold" font-style="normal" fill="#111">*</text>
<circle cx="534.5" cy="299.7" r="2.7" fill="#0000d8"/>
<circle cx="534.5" cy="303" r="2.7" fill="#0000d8"/>
<circle cx="541" cy="308.5" r="2.7" fill="#0000d8"/>
<circle cx="528.6" cy="316.1" r="2.7" fill="#0000d8"/>
<circle cx="534.5" cy="319.3" r="2.7" fill="#0000d8"/>
<circle cx="554.2" cy="298" r="2.7" fill="#f00000"/>
<circle cx="560.4" cy="305.8" r="2.7" fill="#f00000"/>
<circle cx="547.3" cy="312.6" r="2.7" fill="#f00000"/>
<circle cx="554.2" cy="312.5" r="2.7" fill="#f00000"/>
<circle cx="561.2" cy="312.3" r="2.7" fill="#f00000"/>
<circle cx="554.2" cy="321.8" r="2.7" fill="#f00000"/>
<line x1="534.5" y1="301.8" x2="534.5" y2="315.8" stroke="#000" stroke-width="2.3" stroke-linecap="butt"/>
<line x1="531.5" y1="301.8" x2="537.5" y2="301.8" stroke="#000" stroke-width="2.3" stroke-linecap="butt"/>
<line x1="531.5" y1="315.8" x2="537.5" y2="315.8" stroke="#000" stroke-width="2.3" stroke-linecap="butt"/>
<line x1="527.2" y1="308.8" x2="541.8" y2="308.8" stroke="#000" stroke-width="2.5" stroke-linecap="butt"/>
<line x1="554.2" y1="302.3" x2="554.2" y2="315.90000000000003" stroke="#000" stroke-width="2.3" stroke-linecap="butt"/>
<line x1="551.2" y1="302.3" x2="557.2" y2="302.3" stroke="#000" stroke-width="2.3" stroke-linecap="butt"/>
<line x1="551.2" y1="315.90000000000003" x2="557.2" y2="315.90000000000003" stroke="#000" stroke-width="2.3" stroke-linecap="butt"/>
<line x1="546.6" y1="309.1" x2="561.8000000000001" y2="309.1" stroke="#000" stroke-width="2.5" stroke-linecap="butt"/>
<text x="535.2" y="302.66" font-size="21" text-anchor="middle" font-weight="bold" font-style="normal" fill="#111">*</text>
<text x="553.6" y="298.86" font-size="21" text-anchor="middle" font-weight="bold" font-style="normal" fill="#111">*</text>
<circle cx="592.8" cy="308.2" r="2.7" fill="#0000d8"/>
<circle cx="586" cy="315.5" r="2.7" fill="#0000d8"/>
<circle cx="592.8" cy="313.8" r="2.7" fill="#0000d8"/>
<circle cx="599.1" cy="316.4" r="2.7" fill="#0000d8"/>
<circle cx="586" cy="322.3" r="2.7" fill="#0000d8"/>
<circle cx="592.8" cy="323.3" r="2.7" fill="#0000d8"/>
<circle cx="592.8" cy="337.2" r="2.7" fill="#0000d8"/>
<circle cx="612.3" cy="306.8" r="2.7" fill="#f00000"/>
<circle cx="605.7" cy="318.2" r="2.7" fill="#f00000"/>
<circle cx="612.3" cy="315.5" r="2.7" fill="#f00000"/>
<circle cx="618.5" cy="317.9" r="2.7" fill="#f00000"/>
<circle cx="612.3" cy="329.1" r="2.7" fill="#f00000"/>
<circle cx="618.5" cy="329.1" r="2.7" fill="#f00000"/>
<circle cx="612.3" cy="344.2" r="2.7" fill="#f00000"/>
<line x1="592.8" y1="316.3" x2="592.8" y2="322.3" stroke="#000" stroke-width="2.3" stroke-linecap="butt"/>
<line x1="589.8" y1="316.3" x2="595.8" y2="316.3" stroke="#000" stroke-width="2.3" stroke-linecap="butt"/>
<line x1="589.8" y1="322.3" x2="595.8" y2="322.3" stroke="#000" stroke-width="2.3" stroke-linecap="butt"/>
<line x1="584.8" y1="319.3" x2="600.8" y2="319.3" stroke="#000" stroke-width="2.5" stroke-linecap="butt"/>
<line x1="612.3" y1="319.1" x2="612.3" y2="326.1" stroke="#000" stroke-width="2.3" stroke-linecap="butt"/>
<line x1="609.3" y1="319.1" x2="615.3" y2="319.1" stroke="#000" stroke-width="2.3" stroke-linecap="butt"/>
<line x1="609.3" y1="326.1" x2="615.3" y2="326.1" stroke="#000" stroke-width="2.3" stroke-linecap="butt"/>
<line x1="604.4" y1="322.6" x2="620.1999999999999" y2="322.6" stroke="#000" stroke-width="2.5" stroke-linecap="butt"/>
<text x="592.8" y="311.66" font-size="21" text-anchor="middle" font-weight="bold" font-style="normal" fill="#111">*</text>
<text x="612.3" y="310.56" font-size="21" text-anchor="middle" font-weight="bold" font-style="normal" fill="#111">*</text>
<text x="12" y="463.3" font-size="21" text-anchor="start" font-weight="bold" font-style="normal" fill="#111">e</text>
<text x="172.9" y="459.4" font-size="14.5" text-anchor="middle" font-weight="bold" font-style="normal" fill="#111" textLength="109.7" lengthAdjust="spacingAndGlyphs">Collagen matrix</text>
<rect x="91.9" y="529" width="18.69999999999999" height="90.20000000000005" fill="#0000f4" stroke="#000" stroke-width="2.2"/>
<rect x="112.6" y="563.4" width="18.80000000000001" height="55.80000000000007" fill="#fa0000" stroke="#000" stroke-width="2.2"/>
<rect x="161.6" y="529" width="19.200000000000017" height="90.20000000000005" fill="#0000f4" stroke="#000" stroke-width="2.2"/>
<rect x="182.8" y="544.1" width="18.5" height="75.10000000000002" fill="#fa0000" stroke="#000" stroke-width="2.2"/>
<rect x="231.8" y="529" width="18.599999999999994" height="90.20000000000005" fill="#0000f4" stroke="#000" stroke-width="2.2"/>
<rect x="252.4" y="583.3" width="18.99999999999997" height="35.90000000000009" fill="#fa0000" stroke="#000" stroke-width="2.2"/>
<line x1="101.2" y1="522.3" x2="101.2" y2="528" stroke="#000" stroke-width="2.2" stroke-linecap="butt"/>
<line x1="97.7" y1="522.3" x2="104.7" y2="522.3" stroke="#000" stroke-width="2.2" stroke-linecap="butt"/>
<line x1="171.2" y1="521.3" x2="171.2" y2="528" stroke="#000" stroke-width="2.2" stroke-linecap="butt"/>
<line x1="167.7" y1="521.3" x2="174.7" y2="521.3" stroke="#000" stroke-width="2.2" stroke-linecap="butt"/>
<line x1="192" y1="540" x2="192" y2="543.1" stroke="#000" stroke-width="2.2" stroke-linecap="butt"/>
<line x1="188.5" y1="540" x2="195.5" y2="540" stroke="#000" stroke-width="2.2" stroke-linecap="butt"/>
<line x1="241.1" y1="527" x2="241.1" y2="528" stroke="#000" stroke-width="2.2" stroke-linecap="butt"/>
<line x1="237.6" y1="527" x2="244.6" y2="527" stroke="#000" stroke-width="2.2" stroke-linecap="butt"/>
<line x1="261.9" y1="578.5" x2="261.9" y2="582.3" stroke="#000" stroke-width="2.2" stroke-linecap="butt"/>
<line x1="258.4" y1="578.5" x2="265.4" y2="578.5" stroke="#000" stroke-width="2.2" stroke-linecap="butt"/>
<rect x="80" y="599.6" width="200" height="11.2" fill="#fff"/>
<line x1="77" y1="498" x2="77" y2="598.8" stroke="#000" stroke-width="2.7" stroke-linecap="butt"/>
<path d="M77 610.7 L77 619.2 L285.8 619.2" fill="none" stroke="#000" stroke-width="2.7"/>
<line x1="77" y1="498" x2="81" y2="498" stroke="#000" stroke-width="2.7" stroke-linecap="butt"/>
<line x1="77" y1="528.2" x2="81" y2="528.2" stroke="#000" stroke-width="2.7" stroke-linecap="butt"/>
<line x1="77" y1="558.7" x2="81" y2="558.7" stroke="#000" stroke-width="2.7" stroke-linecap="butt"/>
<line x1="77" y1="589.2" x2="81" y2="589.2" stroke="#000" stroke-width="2.7" stroke-linecap="butt"/>
<line x1="146.4" y1="619.2" x2="146.4" y2="613.7" stroke="#000" stroke-width="2.7" stroke-linecap="butt"/>
<line x1="216.1" y1="619.2" x2="216.1" y2="613.7" stroke="#000" stroke-width="2.7" stroke-linecap="butt"/>
<line x1="285.8" y1="619.2" x2="285.8" y2="613.7" stroke="#000" stroke-width="2.7" stroke-linecap="butt"/>
<text x="62.8" y="503.812" font-size="14" text-anchor="end" font-weight="bold" font-style="normal" fill="#111" textLength="23.2" lengthAdjust="spacingAndGlyphs">120</text>
<text x="62.8" y="534.012" font-size="14" text-anchor="end" font-weight="bold" font-style="normal" fill="#111" textLength="23.2" lengthAdjust="spacingAndGlyphs">100</text>
<text x="62.8" y="564.512" font-size="14" text-anchor="end" font-weight="bold" font-style="normal" fill="#111" textLength="15.5" lengthAdjust="spacingAndGlyphs">80</text>
<text x="62.8" y="595.012" font-size="14" text-anchor="end" font-weight="bold" font-style="normal" fill="#111" textLength="15.5" lengthAdjust="spacingAndGlyphs">60</text>
<text x="62.8" y="623.8119999999999" font-size="14" text-anchor="end" font-weight="bold" font-style="normal" fill="#111">0</text>
<text x="27.6" y="555.7" font-size="14.3" text-anchor="middle" font-weight="bold" font-style="normal" fill="#111" textLength="104.4" lengthAdjust="spacingAndGlyphs" transform="rotate(-90 27.6 555.7)">Cell viability (%)</text>
<text x="111.7" y="638.7" font-size="14" text-anchor="middle" font-weight="bold" font-style="normal" fill="#111" textLength="53.2" lengthAdjust="spacingAndGlyphs">Control</text>
<text x="184.8" y="638.7" font-size="14" text-anchor="middle" font-weight="bold" font-style="normal" fill="#111" textLength="20.8" lengthAdjust="spacingAndGlyphs">IPF</text>
<text x="252.6" y="638.7" font-size="14" text-anchor="middle" font-weight="bold" font-style="normal" fill="#111" textLength="42.2" lengthAdjust="spacingAndGlyphs">HBEC</text>
<text x="120.7" y="565.06" font-size="21" text-anchor="middle" font-weight="bold" font-style="normal" fill="#111">*</text>
<text x="261.7" y="582.66" font-size="21" text-anchor="middle" font-weight="bold" font-style="normal" fill="#111">*</text>
<line x1="119.3" y1="486.3" x2="264.7" y2="486.3" stroke="#000" stroke-width="2.6" stroke-linecap="butt"/>
<text x="159.5" y="479.40000000000003" font-size="12.2" text-anchor="middle" font-weight="bold" font-style="italic" fill="#111" textLength="40.7" lengthAdjust="spacingAndGlyphs">p&lt;0.02</text>
<line x1="119.3" y1="511.8" x2="192.9" y2="511.8" stroke="#000" stroke-width="2.6" stroke-linecap="butt"/>
<text x="157.8" y="504.40000000000003" font-size="12.2" text-anchor="middle" font-weight="bold" font-style="italic" fill="#111" textLength="40" lengthAdjust="spacingAndGlyphs">p&lt;0.02</text>
<line x1="187.6" y1="521.3" x2="263" y2="521.3" stroke="#000" stroke-width="2.6" stroke-linecap="butt"/>
<text x="226.7" y="513.8000000000001" font-size="12.2" text-anchor="middle" font-weight="bold" font-style="italic" fill="#111" textLength="39.6" lengthAdjust="spacingAndGlyphs">p&lt;0.01</text>
<rect x="282.5" y="500.6" width="8.5" height="7.5" fill="#1f6ff0" stroke="#000" stroke-width="2"/>
<rect x="282.5" y="515.6" width="8.5" height="7.5" fill="#ee1111" stroke="#000" stroke-width="2"/>
<text x="298" y="507.6" font-size="12" text-anchor="start" font-weight="bold" font-style="normal" fill="#111" textLength="24.5" lengthAdjust="spacingAndGlyphs">0 Gy</text>
<text x="298" y="523.4" font-size="12" text-anchor="start" font-weight="bold" font-style="normal" fill="#111" textLength="24.5" lengthAdjust="spacingAndGlyphs">9 Gy</text>
<text x="378.3" y="464" font-size="21" text-anchor="start" font-weight="bold" font-style="normal" fill="#111">f</text>
<text x="524" y="466.5" font-size="13.2" text-anchor="middle" font-weight="bold" font-style="normal" fill="#111" textLength="98.7" lengthAdjust="spacingAndGlyphs">Collagen matrix</text>
<line x1="439.5" y1="559.4" x2="622" y2="560.2" stroke="#9088bc" stroke-width="1" stroke-linecap="butt" stroke-dasharray="2,2"/>
<line x1="437.5" y1="489.8" x2="437.5" y2="615.3" stroke="#000" stroke-width="2.8" stroke-linecap="butt"/>
<path d="M437.5 624 L437.5 628.8 L628.4 628.8" fill="none" stroke="#000" stroke-width="2.8"/>
<line x1="437.5" y1="490.1" x2="441.5" y2="490.1" stroke="#000" stroke-width="2.8" stroke-linecap="butt"/>
<line x1="437.5" y1="524.9" x2="441.5" y2="524.9" stroke="#000" stroke-width="2.8" stroke-linecap="butt"/>
<line x1="437.5" y1="559.8" x2="441.5" y2="559.8" stroke="#000" stroke-width="2.8" stroke-linecap="butt"/>
<line x1="437.5" y1="594.8" x2="441.5" y2="594.8" stroke="#000" stroke-width="2.8" stroke-linecap="butt"/>
<line x1="485" y1="628.8" x2="485" y2="624.8" stroke="#000" stroke-width="2.8" stroke-linecap="butt"/>
<line x1="532.6" y1="628.8" x2="532.6" y2="624.8" stroke="#000" stroke-width="2.8" stroke-linecap="butt"/>
<line x1="580.7" y1="628.8" x2="580.7" y2="624.8" stroke="#000" stroke-width="2.8" stroke-linecap="butt"/>
<line x1="628.4" y1="628.8" x2="628.4" y2="624.8" stroke="#000" stroke-width="2.8" stroke-linecap="butt"/>
<text x="425.5" y="493.954" font-size="13" text-anchor="end" font-weight="bold" font-style="normal" fill="#111" textLength="21.7" lengthAdjust="spacingAndGlyphs">140</text>
<text x="425.5" y="528.754" font-size="13" text-anchor="end" font-weight="bold" font-style="normal" fill="#111" textLength="21.7" lengthAdjust="spacingAndGlyphs">120</text>
<text x="425.5" y="563.654" font-size="13" text-anchor="end" font-weight="bold" font-style="normal" fill="#111" textLength="21.7" lengthAdjust="spacingAndGlyphs">100</text>
<text x="425.5" y="598.654" font-size="13" text-anchor="end" font-weight="bold" font-style="normal" fill="#111" textLength="14.4" lengthAdjust="spacingAndGlyphs">80</text>
<text x="425.5" y="629.9540000000001" font-size="13" text-anchor="end" font-weight="bold" font-style="normal" fill="#111">0</text>
<text x="391.9" y="553.4" font-size="13.8" text-anchor="middle" font-weight="bold" font-style="normal" fill="#111" textLength="104.5" lengthAdjust="spacingAndGlyphs" transform="rotate(-90 391.9 553.4)">Cell viability (%)</text>
<text x="316.4" y="646.1" font-size="13" text-anchor="start" font-weight="bold" font-style="normal" fill="#111" textLength="116.7" lengthAdjust="spacingAndGlyphs">Bleomycin (µg/mL)</text>
<text x="495.2" y="646.5" font-size="13" text-anchor="middle" font-weight="bold" font-style="normal" fill="#111">1</text>
<text x="568.6" y="646.5" font-size="13" text-anchor="middle" font-weight="bold" font-style="normal" fill="#111">10</text>
<rect x="615.8" y="488" width="8.5" height="8.5" fill="#1f6ff0" stroke="#000" stroke-width="2"/>
<text x="630" y="496.0" font-size="11" text-anchor="start" font-weight="bold" font-style="normal" fill="#111" textLength="39.6" lengthAdjust="spacingAndGlyphs">Control</text>
<rect x="615.8" y="504.8" width="8.5" height="8.5" fill="#ee1111" stroke="#000" stroke-width="2"/>
<text x="630" y="513.8" font-size="11" text-anchor="start" font-weight="bold" font-style="normal" fill="#111" textLength="16.8" lengthAdjust="spacingAndGlyphs">IPF</text>
<line x1="558.2" y1="532.2" x2="581.8" y2="532.2" stroke="#000" stroke-width="2.6" stroke-linecap="butt"/>
<text x="571.2" y="526.6" font-size="11.4" text-anchor="middle" font-weight="bold" font-style="italic" fill="#111" textLength="35.2" lengthAdjust="spacingAndGlyphs">p&lt;0.01</text>
<circle cx="484.6" cy="550.9" r="2.7" fill="#0000d8"/>
<circle cx="484.6" cy="554" r="2.7" fill="#0000d8"/>
<circle cx="477.2" cy="555" r="2.7" fill="#0000d8"/>
<circle cx="492.3" cy="556.8" r="2.7" fill="#0000d8"/>
<circle cx="484.6" cy="560" r="2.7" fill="#0000d8"/>
<circle cx="477.2" cy="565.8" r="2.7" fill="#0000d8"/>
<circle cx="484.6" cy="567.3" r="2.7" fill="#0000d8"/>
<circle cx="484.6" cy="580.6" r="2.7" fill="#0000d8"/>
<circle cx="508.6" cy="541.8" r="2.7" fill="#f00000"/>
<circle cx="508.6" cy="553.3" r="2.7" fill="#f00000"/>
<circle cx="516" cy="557.8" r="2.7" fill="#f00000"/>
<circle cx="502.2" cy="564.2" r="2.7" fill="#f00000"/>
<circle cx="515.5" cy="565.3" r="2.7" fill="#f00000"/>
<circle cx="508.6" cy="568.3" r="2.7" fill="#f00000"/>
<circle cx="508.6" cy="561" r="2.7" fill="#f00000"/>
<line x1="484.6" y1="558.9" x2="484.6" y2="564.9" stroke="#000" stroke-width="2.3" stroke-linecap="butt"/>
<line x1="481.6" y1="558.9" x2="487.6" y2="558.9" stroke="#000" stroke-width="2.3" stroke-linecap="butt"/>
<line x1="481.6" y1="564.9" x2="487.6" y2="564.9" stroke="#000" stroke-width="2.3" stroke-linecap="butt"/>
<line x1="476.8" y1="561.9" x2="492.40000000000003" y2="561.9" stroke="#000" stroke-width="2.5" stroke-linecap="butt"/>
<line x1="508.6" y1="558.0" x2="508.6" y2="564.4000000000001" stroke="#000" stroke-width="2.3" stroke-linecap="butt"/>
<line x1="505.6" y1="558.0" x2="511.6" y2="558.0" stroke="#000" stroke-width="2.3" stroke-linecap="butt"/>
<line x1="505.6" y1="564.4000000000001" x2="511.6" y2="564.4000000000001" stroke="#000" stroke-width="2.3" stroke-linecap="butt"/>
<line x1="501.1" y1="561.2" x2="516.1" y2="561.2" stroke="#000" stroke-width="2.5" stroke-linecap="butt"/>
<circle cx="557.4" cy="583.8" r="2.7" fill="#0000d8"/>
<circle cx="563.9" cy="586.5" r="2.7" fill="#0000d8"/>
<circle cx="550.3" cy="593" r="2.7" fill="#0000d8"/>
<circle cx="557.4" cy="590" r="2.7" fill="#0000d8"/>
<circle cx="564.7" cy="593.6" r="2.7" fill="#0000d8"/>
<circle cx="550.3" cy="599.5" r="2.7" fill="#0000d8"/>
<circle cx="557.4" cy="596.8" r="2.7" fill="#0000d8"/>
<circle cx="581.2" cy="553.4" r="2.7" fill="#f00000"/>
<circle cx="581.2" cy="567" r="2.7" fill="#f00000"/>
<circle cx="588.8" cy="568.6" r="2.7" fill="#f00000"/>
<circle cx="581.2" cy="570" r="2.7" fill="#f00000"/>
<circle cx="581.2" cy="580" r="2.7" fill="#f00000"/>
<circle cx="581.2" cy="590.9" r="2.7" fill="#f00000"/>
<circle cx="581.2" cy="594.7" r="2.7" fill="#f00000"/>
<line x1="557.4" y1="588.9" x2="557.4" y2="594.9" stroke="#000" stroke-width="2.3" stroke-linecap="butt"/>
<line x1="554.4" y1="588.9" x2="560.4" y2="588.9" stroke="#000" stroke-width="2.3" stroke-linecap="butt"/>
<line x1="554.4" y1="594.9" x2="560.4" y2="594.9" stroke="#000" stroke-width="2.3" stroke-linecap="butt"/>
<line x1="550.9" y1="591.9" x2="563.9" y2="591.9" stroke="#000" stroke-width="2.5" stroke-linecap="butt"/>
<line x1="581.2" y1="572.6" x2="581.2" y2="582.4" stroke="#000" stroke-width="2.3" stroke-linecap="butt"/>
<line x1="578.2" y1="572.6" x2="584.2" y2="572.6" stroke="#000" stroke-width="2.3" stroke-linecap="butt"/>
<line x1="578.2" y1="582.4" x2="584.2" y2="582.4" stroke="#000" stroke-width="2.3" stroke-linecap="butt"/>
<line x1="573.6" y1="577.5" x2="588.8000000000001" y2="577.5" stroke="#000" stroke-width="2.5" stroke-linecap="butt"/>
<text x="557.4" y="583.66" font-size="21" text-anchor="middle" font-weight="bold" font-style="normal" fill="#111">*</text>
<text x="581.2" y="552.66" font-size="21" text-anchor="middle" font-weight="bold" font-style="normal" fill="#111">*</text>
<text x="177.8" y="693" font-size="21" text-anchor="start" font-weight="bold" font-style="normal" fill="#111">g</text>
<text x="333.6" y="690.8" font-size="13.5" text-anchor="middle" font-weight="bold" font-style="normal" fill="#111" textLength="102.6" lengthAdjust="spacingAndGlyphs">Collagen matrix</text>
<line x1="244.1" y1="786.6" x2="432.3" y2="787.6" stroke="#9088bc" stroke-width="1" stroke-linecap="butt" stroke-dasharray="2,2"/>
<line x1="242.1" y1="720.6" x2="242.1" y2="839.2" stroke="#000" stroke-width="2.8" stroke-linecap="butt"/>
<path d="M242.1 848 L242.1 853 L438 853" fill="none" stroke="#000" stroke-width="2.8"/>
<line x1="242.1" y1="720.6" x2="246.1" y2="720.6" stroke="#000" stroke-width="2.8" stroke-linecap="butt"/>
<line x1="242.1" y1="753.5" x2="246.1" y2="753.5" stroke="#000" stroke-width="2.8" stroke-linecap="butt"/>
<line x1="242.1" y1="786.6" x2="246.1" y2="786.6" stroke="#000" stroke-width="2.8" stroke-linecap="butt"/>
<line x1="242.1" y1="820.0" x2="246.1" y2="820.0" stroke="#000" stroke-width="2.8" stroke-linecap="butt"/>
<line x1="291.2" y1="853" x2="291.2" y2="849" stroke="#000" stroke-width="2.8" stroke-linecap="butt"/>
<line x1="341.3" y1="853" x2="341.3" y2="849" stroke="#000" stroke-width="2.8" stroke-linecap="butt"/>
<line x1="390.6" y1="853" x2="390.6" y2="849" stroke="#000" stroke-width="2.8" stroke-linecap="butt"/>
<line x1="438" y1="853" x2="438" y2="849" stroke="#000" stroke-width="2.8" stroke-linecap="butt"/>
<text x="229.6" y="725.154" font-size="13" text-anchor="end" font-weight="bold" font-style="normal" fill="#111" textLength="22.8" lengthAdjust="spacingAndGlyphs">140</text>
<text x="229.6" y="758.054" font-size="13" text-anchor="end" font-weight="bold" font-style="normal" fill="#111" textLength="22.8" lengthAdjust="spacingAndGlyphs">120</text>
<text x="229.6" y="791.154" font-size="13" text-anchor="end" font-weight="bold" font-style="normal" fill="#111" textLength="22.8" lengthAdjust="spacingAndGlyphs">100</text>
<text x="229.6" y="824.554" font-size="13" text-anchor="end" font-weight="bold" font-style="normal" fill="#111" textLength="14.4" lengthAdjust="spacingAndGlyphs">80</text>
<text x="229.6" y="853.7539999999999" font-size="13" text-anchor="end" font-weight="bold" font-style="normal" fill="#111">0</text>
<text x="191.6" y="777.2" font-size="14" text-anchor="middle" font-weight="bold" font-style="normal" fill="#111" textLength="104.5" lengthAdjust="spacingAndGlyphs" transform="rotate(-90 191.6 777.2)">Cell viability (%)</text>
<text x="190" y="870" font-size="13" text-anchor="start" font-weight="bold" font-style="normal" fill="#111" textLength="51" lengthAdjust="spacingAndGlyphs">Time (h)</text>
<text x="305.2" y="871.2" font-size="13" text-anchor="middle" font-weight="bold" font-style="normal" fill="#111">12</text>
<text x="378.5" y="871.2" font-size="13" text-anchor="middle" font-weight="bold" font-style="normal" fill="#111">24</text>
<rect x="431.4" y="712.8" width="8.5" height="8.5" fill="#1f6ff0" stroke="#000" stroke-width="2"/>
<text x="443.7" y="720.8" font-size="11.8" text-anchor="start" font-weight="bold" font-style="normal" fill="#111" textLength="42.8" lengthAdjust="spacingAndGlyphs">Control</text>
<rect x="431.4" y="728.2" width="8.5" height="8.5" fill="#ee1111" stroke="#000" stroke-width="2"/>
<text x="443.7" y="737.2" font-size="11.8" text-anchor="start" font-weight="bold" font-style="normal" fill="#111" textLength="17" lengthAdjust="spacingAndGlyphs">IPF</text>
<line x1="291.2" y1="756.5" x2="315.3" y2="756.5" stroke="#000" stroke-width="2.6" stroke-linecap="butt"/>
<text x="305.3" y="751.4" font-size="11.4" text-anchor="middle" font-weight="bold" font-style="italic" fill="#111" textLength="36.2" lengthAdjust="spacingAndGlyphs">p&lt;0.01</text>
<line x1="366.8" y1="762.5" x2="390.8" y2="762.5" stroke="#000" stroke-width="2.6" stroke-linecap="butt"/>
<text x="381.1" y="758.1" font-size="11.4" text-anchor="middle" font-weight="bold" font-style="italic" fill="#111" textLength="36.8" lengthAdjust="spacingAndGlyphs">p&lt;0.02</text>
<circle cx="291.4" cy="777.4" r="2.7" fill="#0000d8"/>
<circle cx="285.1" cy="787.1" r="2.7" fill="#0000d8"/>
<circle cx="296.4" cy="786.1" r="2.7" fill="#0000d8"/>
<circle cx="281.5" cy="793.2" r="2.7" fill="#0000d8"/>
<circle cx="299.4" cy="793.2" r="2.7" fill="#0000d8"/>
<circle cx="285.1" cy="798.9" r="2.7" fill="#0000d8"/>
<circle cx="291.4" cy="796" r="2.7" fill="#0000d8"/>
<circle cx="291.4" cy="806.5" r="2.7" fill="#0000d8"/>
<circle cx="316.8" cy="765.7" r="2.7" fill="#f00000"/>
<circle cx="308.6" cy="777.7" r="2.7" fill="#f00000"/>
<circle cx="316.8" cy="775.4" r="2.7" fill="#f00000"/>
<circle cx="324.1" cy="777.7" r="2.7" fill="#f00000"/>
<circle cx="316.8" cy="785.1" r="2.7" fill="#f00000"/>
<circle cx="316.8" cy="790.7" r="2.7" fill="#f00000"/>
<circle cx="316.8" cy="794.3" r="2.7" fill="#f00000"/>
<circle cx="337.7" cy="791.7" r="2.7" fill="#f00000"/>
<line x1="291.4" y1="791.0999999999999" x2="291.4" y2="798.5" stroke="#000" stroke-width="2.3" stroke-linecap="butt"/>
<line x1="288.4" y1="791.0999999999999" x2="294.4" y2="791.0999999999999" stroke="#000" stroke-width="2.3" stroke-linecap="butt"/>
<line x1="288.4" y1="798.5" x2="294.4" y2="798.5" stroke="#000" stroke-width="2.3" stroke-linecap="butt"/>
<line x1="283.4" y1="794.8" x2="299.4" y2="794.8" stroke="#000" stroke-width="2.5" stroke-linecap="butt"/>
<line x1="316.8" y1="777.2" x2="316.8" y2="784.8" stroke="#000" stroke-width="2.3" stroke-linecap="butt"/>
<line x1="313.8" y1="777.2" x2="319.8" y2="777.2" stroke="#000" stroke-width="2.3" stroke-linecap="butt"/>
<line x1="313.8" y1="784.8" x2="319.8" y2="784.8" stroke="#000" stroke-width="2.3" stroke-linecap="butt"/>
<line x1="308.90000000000003" y1="781" x2="324.7" y2="781" stroke="#000" stroke-width="2.5" stroke-linecap="butt"/>
<circle cx="366.7" cy="809.8" r="2.7" fill="#0000d8"/>
<circle cx="374.1" cy="811.3" r="2.7" fill="#0000d8"/>
<circle cx="359.8" cy="817.5" r="2.7" fill="#0000d8"/>
<circle cx="374.6" cy="818" r="2.7" fill="#0000d8"/>
<circle cx="359.8" cy="824.1" r="2.7" fill="#0000d8"/>
<circle cx="366.7" cy="822.1" r="2.7" fill="#0000d8"/>
<circle cx="366.7" cy="814" r="2.7" fill="#0000d8"/>
<circle cx="391.6" cy="780.9" r="2.7" fill="#f00000"/>
<circle cx="391.6" cy="793.6" r="2.7" fill="#f00000"/>
<circle cx="399.1" cy="795.7" r="2.7" fill="#f00000"/>
<circle cx="391.6" cy="797" r="2.7" fill="#f00000"/>
<circle cx="391.6" cy="816.5" r="2.7" fill="#f00000"/>
<circle cx="391.6" cy="820.5" r="2.7" fill="#f00000"/>
<line x1="366.7" y1="813.5" x2="366.7" y2="819.5" stroke="#000" stroke-width="2.3" stroke-linecap="butt"/>
<line x1="363.7" y1="813.5" x2="369.7" y2="813.5" stroke="#000" stroke-width="2.3" stroke-linecap="butt"/>
<line x1="363.7" y1="819.5" x2="369.7" y2="819.5" stroke="#000" stroke-width="2.3" stroke-linecap="butt"/>
<line x1="360.2" y1="816.5" x2="373.2" y2="816.5" stroke="#000" stroke-width="2.5" stroke-linecap="butt"/>
<line x1="391.5" y1="799" x2="391.5" y2="809" stroke="#000" stroke-width="2.3" stroke-linecap="butt"/>
<line x1="388.5" y1="799" x2="394.5" y2="799" stroke="#000" stroke-width="2.3" stroke-linecap="butt"/>
<line x1="388.5" y1="809" x2="394.5" y2="809" stroke="#000" stroke-width="2.3" stroke-linecap="butt"/>
<line x1="383.8" y1="804" x2="399.2" y2="804" stroke="#000" stroke-width="2.5" stroke-linecap="butt"/>
<text x="366.7" y="811.26" font-size="21" text-anchor="middle" font-weight="bold" font-style="normal" fill="#111">*</text>
<text x="391.3" y="782.36" font-size="21" text-anchor="middle" font-weight="bold" font-style="normal" fill="#111">*</text>
</svg>
</body></html>
